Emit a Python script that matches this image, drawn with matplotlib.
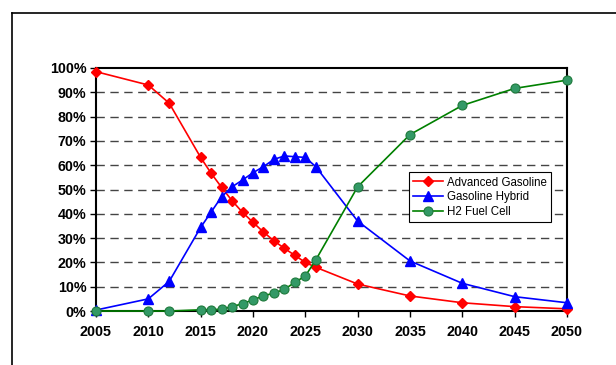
import matplotlib.pyplot as plt
from matplotlib.lines import Line2D
from matplotlib.ticker import MultipleLocator, PercentFormatter

plt.rcParams['font.family'] = ['Liberation Sans', 'DejaVu Sans']

# market share by year (%)
years = [2005, 2010, 2012, 2015, 2016, 2017, 2018, 2019, 2020, 2021, 2022,
         2023, 2024, 2025, 2026, 2030, 2035, 2040, 2045, 2050]
adv_gasoline = [98.5, 93.0, 85.5, 63.2, 56.7, 50.9, 45.4, 40.6, 36.5, 32.5, 28.9,
                25.8, 22.9, 20.0, 18.0, 11.1, 6.2, 3.4, 1.8, 0.9]
gas_hybrid = [0.4, 5.0, 12.2, 34.4, 40.7, 47.0, 51.1, 53.9, 56.9, 59.4, 62.4,
              63.8, 63.5, 63.2, 59.4, 37.0, 20.6, 11.4, 5.9, 3.4]
h2_fuel_cell = [0.0, 0.0, 0.0, 0.5, 0.6, 0.7, 1.8, 3.0, 4.6, 6.2, 7.4,
                8.9, 11.8, 14.4, 21.0, 51.1, 72.6, 84.6, 91.6, 95.0]

fig = plt.figure(figsize=(6.16, 3.65), dpi=100)
ax = fig.add_axes([0.1558, 0.1479, 0.7646, 0.6658])

ax.plot(years, adv_gasoline, color='#ff0000', lw=1.2, marker='D', ms=5,
        mfc='#ff0000', mec='#ff0000', clip_on=False, zorder=3, label='Advanced Gasoline')
ax.plot(years, gas_hybrid, color='#0000ff', lw=1.2, marker='^', ms=7,
        mfc='#0000ff', mec='#0000ff', clip_on=False, zorder=4, label='Gasoline Hybrid')
ax.plot(years, h2_fuel_cell, color='#008000', lw=1.2, marker='o', ms=6.5,
        mfc='#339966', mec='#1e7a3c', mew=0.8, clip_on=False, zorder=5, label='H2 Fuel Cell')

ax.set_xlim(2005, 2050)
ax.set_ylim(0, 100)
ax.set_xticks(range(2005, 2051, 5))
ax.yaxis.set_major_locator(MultipleLocator(10))
ax.yaxis.set_major_formatter(PercentFormatter(decimals=0))
ax.tick_params(direction='out', length=4, width=1, labelsize=10.3, pad=3)
for lab in ax.get_xticklabels() + ax.get_yticklabels():
    lab.set_fontweight('bold')
ax.tick_params(axis='x', pad=6)

for y in range(10, 100, 10):
    ax.axhline(y, color='#444444', lw=1.0, dashes=(6, 4), zorder=1)

for s in ax.spines.values():
    s.set_linewidth(1.5)
    s.set_color('black')

leg = ax.legend(loc='upper left', bbox_to_anchor=(0.665, 0.57), fontsize=8.3,
                frameon=True, fancybox=False, framealpha=1, edgecolor='black',
                handlelength=2.6, handletextpad=0.3, borderpad=0.35,
                labelspacing=0.25, borderaxespad=0)
leg.get_frame().set_linewidth(0.8)

# outer chart border (left and top edges)
fig.add_artist(Line2D([12/616, 12/616], [0, 1 - 13/365], color='black', lw=1.2))
fig.add_artist(Line2D([12/616, 1], [1 - 13/365, 1 - 13/365], color='black', lw=1.2))

fig.savefig('out.png', dpi=100)
